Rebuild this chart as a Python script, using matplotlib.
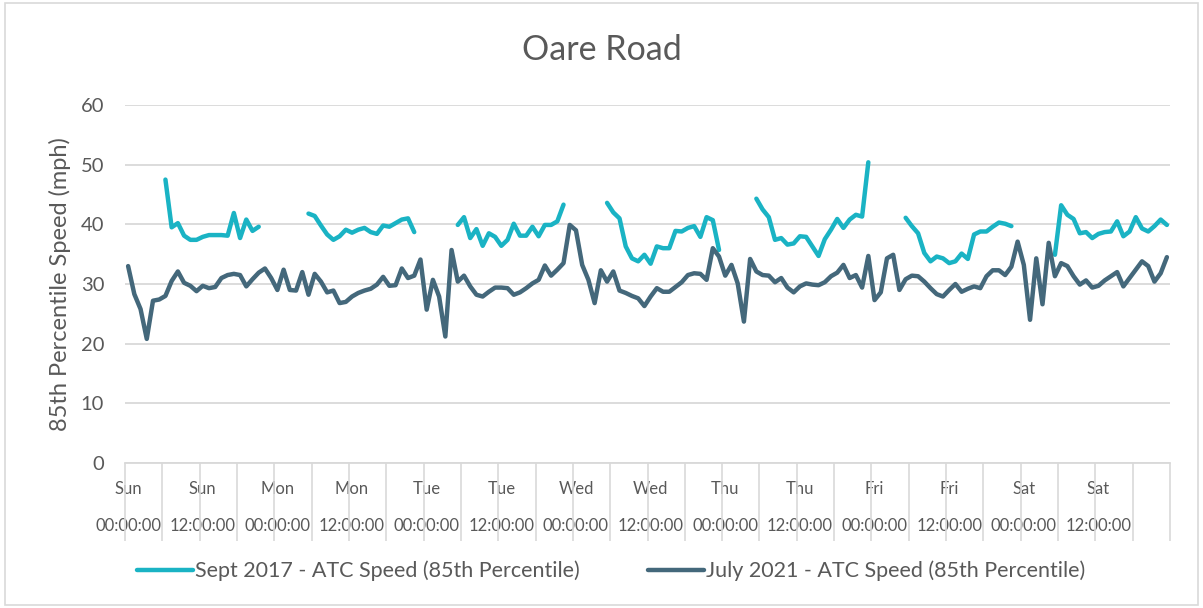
import numpy as np
import matplotlib.pyplot as plt
from matplotlib.patches import Rectangle

nan = np.nan

days = ["Sun", "Mon", "Tue", "Wed", "Thu", "Fri", "Sat"]
times = ["00:00:00", "12:00:00"]

# hourly 85th percentile speed (mph), Sunday 00:00 -> Saturday 23:00
sept_2017 = [
    nan, nan, nan, nan, nan, nan, 47.5, 39.5, 40.2, 38.1, 37.4, 37.4,
    37.9, 38.2, 38.2, 38.2, 38.1, 41.9, 37.7, 40.8, 38.9, 39.6, nan, nan,
    nan, nan, nan, nan, nan, 41.8, 41.4, 39.8, 38.3, 37.4, 38.0, 39.1,
    38.6, 39.1, 39.4, 38.7, 38.4, 39.8, 39.6, 40.2, 40.8, 41.0, 38.7, nan,
    nan, nan, nan, nan, nan, 39.9, 41.2, 37.7, 39.2, 36.4, 38.5, 37.9,
    36.4, 37.4, 40.1, 38.1, 38.1, 39.6, 38.0, 39.9, 39.9, 40.5, 43.3, nan,
    nan, nan, nan, nan, nan, 43.6, 42.0, 41.0, 36.3, 34.3, 33.8, 34.9,
    33.4, 36.3, 36.0, 36.0, 38.9, 38.8, 39.4, 39.7, 37.9, 41.2, 40.7, 35.7,
    nan, nan, nan, nan, nan, 44.3, 42.5, 41.2, 37.4, 37.7, 36.6, 36.8,
    38.0, 37.9, 36.3, 34.7, 37.5, 39.1, 40.9, 39.4, 40.8, 41.6, 41.3, 50.4,
    nan, nan, nan, nan, nan, 41.1, 39.7, 38.5, 35.2, 33.8, 34.6, 34.3,
    33.5, 33.8, 35.1, 34.2, 38.3, 38.8, 38.8, 39.6, 40.3, 40.1, 39.7, nan,
    nan, nan, nan, nan, nan, 34.9, 43.2, 41.6, 40.9, 38.5, 38.7, 37.7,
    38.4, 38.7, 38.8, 40.5, 38.0, 38.8, 41.2, 39.3, 38.8, 39.7, 40.8, 39.9,
]

july_2021 = [
    33.0, 28.3, 25.8, 20.8, 27.2, 27.4, 28.0, 30.5, 32.1, 30.2, 29.7, 28.8,
    29.7, 29.3, 29.5, 31.0, 31.5, 31.7, 31.5, 29.6, 30.8, 31.9, 32.6, 31.0,
    29.0, 32.4, 29.0, 28.9, 32.0, 28.2, 31.7, 30.4, 28.6, 28.9, 26.8, 27.0,
    27.9, 28.5, 28.9, 29.2, 29.9, 31.2, 29.7, 29.8, 32.6, 31.0, 31.4, 34.1,
    25.7, 30.7, 27.9, 21.2, 35.7, 30.4, 31.4, 29.6, 28.2, 27.9, 28.7, 29.4,
    29.4, 29.3, 28.2, 28.6, 29.3, 30.1, 30.7, 33.1, 31.4, 32.4, 33.5, 39.9,
    39.0, 33.2, 30.7, 26.8, 32.3, 30.4, 32.1, 28.9, 28.5, 28.0, 27.6, 26.3,
    27.9, 29.3, 28.7, 28.7, 29.5, 30.3, 31.5, 31.8, 31.7, 30.7, 36.0, 34.6,
    31.4, 33.2, 30.1, 23.7, 34.2, 32.1, 31.5, 31.4, 30.3, 31.0, 29.4, 28.6,
    29.6, 30.1, 29.9, 29.8, 30.3, 31.3, 31.9, 33.2, 31.0, 31.5, 29.4, 34.7,
    27.3, 28.6, 34.3, 34.9, 29.0, 30.8, 31.4, 31.3, 30.4, 29.3, 28.3, 27.9,
    29.0, 30.0, 28.7, 29.2, 29.6, 29.3, 31.3, 32.3, 32.3, 31.5, 32.9, 37.1,
    33.2, 24.0, 34.3, 26.6, 36.9, 31.3, 33.5, 33.0, 31.3, 29.9, 30.6, 29.4,
    29.7, 30.6, 31.3, 32.0, 29.6, 31.0, 32.4, 33.8, 33.0, 30.4, 31.8, 34.5,
]

TEAL = "#1AB3C4"
DARK = "#44687B"
GREY = "#595959"
GRID = "#D9D9D9"

plt.rcParams["font.family"] = ["Lato", "DejaVu Sans"]

fig = plt.figure(figsize=(12.03, 6.08), dpi=100)
ax = fig.add_axes([125 / 1203, 1 - 463 / 608, 1045 / 1203, 358 / 608])

# chart border
fig.patches.append(Rectangle((5 / 1203, 3 / 608), 1193 / 1203, 602 / 608,
                             transform=fig.transFigure, fill=False,
                             edgecolor=GRID, lw=1.2))

hours = np.arange(len(july_2021))
ax.plot(hours, sept_2017, color=TEAL, lw=3.2, solid_capstyle="round",
        solid_joinstyle="round", label="Sept 2017 - ATC Speed (85th Percentile)")
ax.plot(hours, july_2021, color=DARK, lw=3.2, solid_capstyle="round",
        solid_joinstyle="round", label="July 2021 - ATC Speed (85th Percentile)")

ax.set_xlim(-0.5, len(hours) - 0.5)
ax.set_ylim(0, 60)
ax.set_yticks(range(0, 61, 10))
ax.yaxis.grid(True, color=GRID, lw=1.3)
ax.set_axisbelow(True)
for s in ["top", "right", "left"]:
    ax.spines[s].set_visible(False)
ax.spines["bottom"].set_color(GRID)
ax.spines["bottom"].set_linewidth(1.3)
ax.tick_params(axis="y", length=0, labelsize=14.5, labelcolor=GREY, pad=15)

labels = [f"{d}\n\n{t}" for d in days for t in times]
ax.set_xticks(np.arange(0, len(hours), 12))
ax.set_xticklabels(labels, fontsize=12, color=GREY, linespacing=1.2)
ax.set_xticks(np.arange(-0.5, len(hours), 6), minor=True)
ax.tick_params(axis="x", which="major", length=0, pad=13)
ax.tick_params(axis="x", which="minor", length=56, color=GRID, width=1.2)

ax.set_ylabel("85th Percentile Speed (mph)", fontsize=17, color=GREY, labelpad=7)
fig.suptitle("Oare Road", fontsize=24.5, color=GREY, y=1 - 50 / 608, va="center")

fig.legend(loc="center", bbox_to_anchor=(0.508, 1 - 571 / 608), ncol=2,
           frameon=False, fontsize=15.5, labelcolor=GREY, handlelength=2.6,
           handletextpad=0.1, columnspacing=3.2)

fig.savefig("out.png", dpi=100)
